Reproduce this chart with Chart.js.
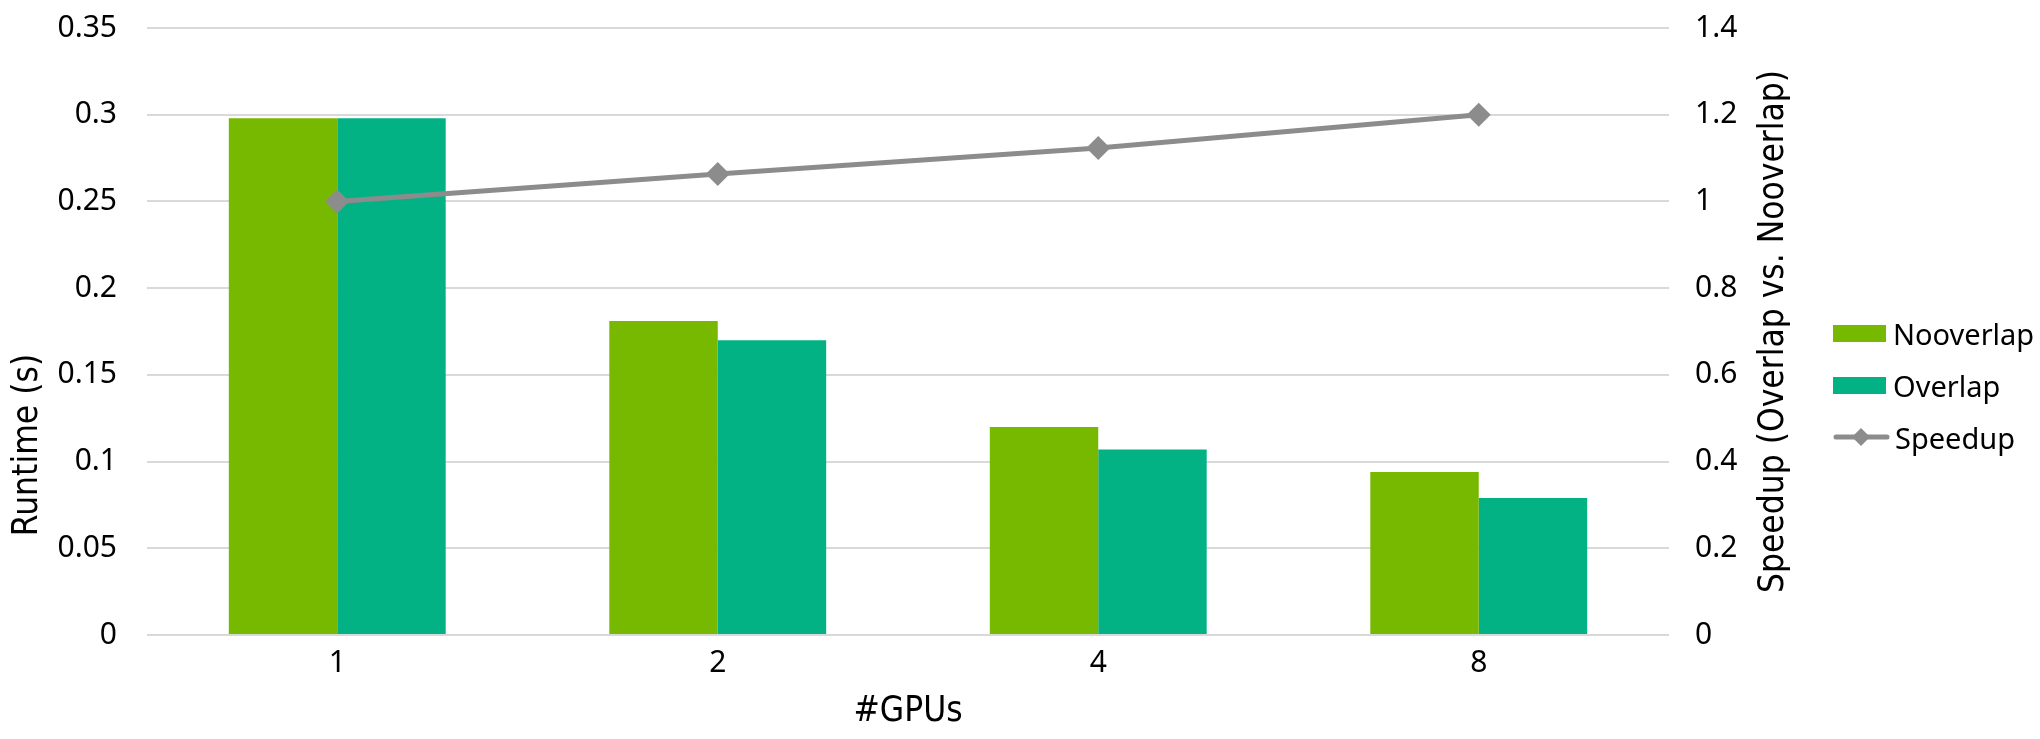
<!DOCTYPE html>
<html>
<head>
<meta charset="utf-8">
<script src="https://cdn.jsdelivr.net/npm/chart.js@4"></script>
<style>
	html, body { margin: 0; padding: 0; background: #ffffff; }
	#wrap { position: relative; width: 2040px; height: 739px; }
	#legend { position: absolute; left: 1833px; top: 307px; font-family: 'Noto Sans', sans-serif; font-size: 29px; color: #000; }
	#legend .item { display: flex; align-items: center; height: 52px; }
	#legend .swatch { width: 53px; height: 17px; margin-right: 7px; }
	#legend svg { margin-right: 5px; }
</style>
</head>
<body>
<div id="wrap">
	<canvas id="chart" width="2040" height="739"></canvas>
	<div id="legend"></div>
</div>
<script>
// chart data
var gpuLabels = ['1', '2', '4', '8'];
var nooverlapRuntime = [0.298, 0.181, 0.120, 0.094];
var overlapRuntime = [0.298, 0.170, 0.107, 0.079];
var speedupValues = [1.0, 1.063, 1.123, 1.2];
var runtimeTicks = ['0', '0.05', '0.1', '0.15', '0.2', '0.25', '0.3', '0.35'];
var speedupTicks = ['0', '0.2', '0.4', '0.6', '0.8', '1', '1.2', '1.4'];

(function () {
	'use strict';

	var GREEN = '#76b900';
	var TEAL  = '#02b284';
	var GRAY  = '#8c8c8c';
	var GRID  = '#d9d9d9';
	var NONE  = 'rgba(0,0,0,0)';
	var tickFont  = { family: 'Noto Sans', size: 30 };
	var TITLE_FONT = '35px "DejaVu Sans Condensed", "DejaVu Sans", sans-serif';

	// axis titles drawn by hand so they can sit where the original has them
	var axisTitles = {
		id: 'axisTitles',
		afterDraw: function (chart) {
			var c = chart.ctx;
			var area = chart.chartArea;
			c.save();
			c.fillStyle = '#000';
			c.font = TITLE_FONT;
			c.textAlign = 'center';
			c.textBaseline = 'middle';

			c.fillText('#GPUs', (area.left + area.right) / 2, 712);

			c.translate(28, 445);
			c.rotate(-Math.PI / 2);
			c.fillText('Runtime (s)', 0, 0);
			c.restore();

			c.save();
			c.fillStyle = '#000';
			c.font = TITLE_FONT;
			c.textAlign = 'center';
			c.textBaseline = 'middle';
			c.translate(1774, (area.top + area.bottom) / 2);
			c.rotate(-Math.PI / 2);
			c.fillText('Speedup (Overlap vs. Nooverlap)', 0, 0);
			c.restore();
		}
	};

	var ctx = document.getElementById('chart');

	var chart = new Chart(ctx, {
		type: 'bar',
		data: {
			labels: gpuLabels,
			datasets: [
				{
					type: 'line',
					label: 'Speedup',
					data: speedupValues,
					yAxisID: 'y1',
					borderColor: GRAY,
					backgroundColor: GRAY,
					borderWidth: 5,
					pointStyle: 'rectRot',
					pointRadius: 12,
					pointHoverRadius: 12,
					pointBackgroundColor: GRAY,
					pointBorderWidth: 0,
					tension: 0,
					order: 0
				},
				{
					label: 'Nooverlap',
					data: nooverlapRuntime,
					yAxisID: 'y',
					backgroundColor: GREEN,
					categoryPercentage: 0.57,
					barPercentage: 1.0,
					order: 1
				},
				{
					label: 'Overlap',
					data: overlapRuntime,
					yAxisID: 'y',
					backgroundColor: TEAL,
					categoryPercentage: 0.57,
					barPercentage: 1.0,
					order: 1
				}
			]
		},
		options: {
			responsive: false,
			animation: false,
			devicePixelRatio: 1,
			layout: {
				autoPadding: false,
				padding: { left: 0, right: 0, top: 28, bottom: 0 }
			},
			plugins: {
				legend: { display: false },
				tooltip: { enabled: false }
			},
			scales: {
				x: {
					grid: { display: false, drawTicks: false },
					border: { display: false },
					ticks: { color: '#000', font: tickFont, padding: 10 },
					afterFit: function (scale) {
						scale.height = 739 - 635;
					}
				},
				y: {
					position: 'left',
					min: 0,
					max: 0.35,
					ticks: {
						stepSize: 0.05,
						color: '#000',
						font: tickFont,
						padding: 0,
						callback: function (value, index) {
							return runtimeTicks[index];
						}
					},
					// invisible tick marks give the gap between labels and plot
					grid: { color: GRID, lineWidth: 2, drawTicks: true, tickLength: 30, tickColor: NONE },
					border: { display: false },
					afterFit: function (scale) {
						scale.width = 147;
					}
				},
				y1: {
					position: 'right',
					min: 0,
					max: 1.4,
					ticks: {
						stepSize: 0.2,
						color: '#000',
						font: tickFont,
						padding: 0,
						callback: function (value, index) {
							return speedupTicks[index];
						}
					},
					grid: { drawOnChartArea: false, color: NONE, drawTicks: true, tickLength: 26, tickColor: NONE },
					border: { display: false },
					afterFit: function (scale) {
						scale.width = 2040 - 1669;
					}
				}
			}
		},
		plugins: [axisTitles]
	});

	// HTML legend, placed like the original
	var legend = document.getElementById('legend');
	var items = [
		{ label: 'Nooverlap', color: GREEN, kind: 'box' },
		{ label: 'Overlap', color: TEAL, kind: 'box' },
		{ label: 'Speedup', color: GRAY, kind: 'line' }
	];
	items.forEach(function (it) {
		var row = document.createElement('div');
		row.className = 'item';
		if (it.kind === 'box') {
			var sw = document.createElement('span');
			sw.className = 'swatch';
			sw.style.background = it.color;
			row.appendChild(sw);
		} else {
			var ns = 'http://www.w3.org/2000/svg';
			var svg = document.createElementNS(ns, 'svg');
			svg.setAttribute('width', '57');
			svg.setAttribute('height', '24');
			var ln = document.createElementNS(ns, 'line');
			ln.setAttribute('x1', '3'); ln.setAttribute('y1', '12');
			ln.setAttribute('x2', '54'); ln.setAttribute('y2', '12');
			ln.setAttribute('stroke', it.color);
			ln.setAttribute('stroke-width', '5');
			ln.setAttribute('stroke-linecap', 'round');
			var dm = document.createElementNS(ns, 'polygon');
			dm.setAttribute('points', '28,3 37,12 28,21 19,12');
			dm.setAttribute('fill', it.color);
			svg.appendChild(ln);
			svg.appendChild(dm);
			row.appendChild(svg);
		}
		var tx = document.createElement('span');
		tx.textContent = it.label;
		row.appendChild(tx);
		legend.appendChild(row);
	});
})();
</script>
</body>
</html>
